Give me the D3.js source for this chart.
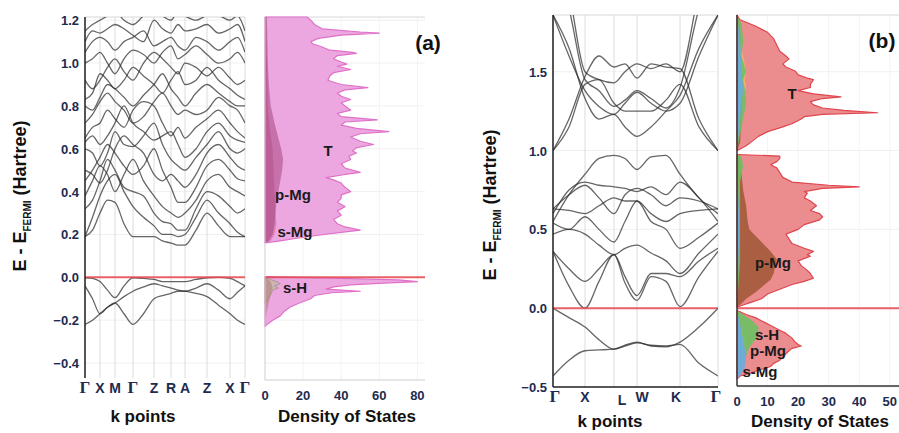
<!DOCTYPE html>
<html>
<head>
<meta charset="utf-8">
<script src="https://cdn.jsdelivr.net/npm/d3@7"></script>
<style>
  body { margin: 0; background: #fff; }
  svg { display: block; font-family: "Liberation Sans", Arial, sans-serif; }
</style>
</head>
<body>
<svg id="chart" width="899" height="433"></svg>
<script>
// ---------- data: panel (a) ----------
const kLabelsA = ['Γ', 'X', 'M', 'Γ', 'Z', 'R', 'A', 'Z', 'X', 'Γ'];
const kPosA = [0, 15, 30, 48, 69, 86, 100, 122, 145, 160];
// band samples at each k point and the midpoints between them
const kSampleA = [0, 7.5, 15, 22.5, 30, 39, 48, 58.5, 69, 77.5, 86, 93, 100, 111, 122, 133.5, 145, 152.5, 160];
const bandsA = [
  [-0.002, -0.005, -0.02, -0.06, -0.095, -0.04, -0.002, -0.005, -0.01, -0.02, -0.02, -0.02, -0.02, -0.01, -0.002, 0.0, -0.005, -0.02, -0.04],
  [-0.04, -0.10, -0.17, -0.14, -0.12, -0.09, -0.065, -0.045, -0.03, -0.04, -0.05, -0.06, -0.065, -0.075, -0.09, -0.13, -0.17, -0.20, -0.22],
  [-0.22, -0.20, -0.17, -0.14, -0.12, -0.17, -0.22, -0.17, -0.10, -0.085, -0.075, -0.065, -0.065, -0.05, -0.03, -0.06, -0.10, -0.07, -0.04],
  [0.19, 0.22, 0.30, 0.36, 0.35, 0.25, 0.19, 0.19, 0.19, 0.17, 0.16, 0.15, 0.15, 0.22, 0.30, 0.24, 0.19, 0.19, 0.19],
  [0.19, 0.28, 0.38, 0.45, 0.48, 0.40, 0.33, 0.28, 0.24, 0.20, 0.20, 0.19, 0.20, 0.28, 0.36, 0.30, 0.25, 0.21, 0.19],
  [0.32, 0.36, 0.45, 0.55, 0.50, 0.42, 0.40, 0.38, 0.30, 0.26, 0.25, 0.22, 0.22, 0.32, 0.40, 0.38, 0.33, 0.30, 0.32],
  [0.38, 0.45, 0.52, 0.48, 0.40, 0.48, 0.55, 0.45, 0.38, 0.33, 0.30, 0.28, 0.30, 0.36, 0.45, 0.48, 0.42, 0.40, 0.38],
  [0.45, 0.50, 0.56, 0.62, 0.58, 0.52, 0.48, 0.52, 0.60, 0.50, 0.42, 0.35, 0.35, 0.42, 0.52, 0.55, 0.50, 0.46, 0.45],
  [0.50, 0.48, 0.44, 0.50, 0.60, 0.66, 0.62, 0.58, 0.48, 0.45, 0.48, 0.45, 0.42, 0.48, 0.58, 0.62, 0.56, 0.52, 0.50],
  [0.60, 0.58, 0.52, 0.58, 0.68, 0.62, 0.61, 0.66, 0.72, 0.62, 0.55, 0.52, 0.50, 0.56, 0.62, 0.68, 0.60, 0.58, 0.60],
  [0.63, 0.66, 0.62, 0.66, 0.72, 0.80, 0.72, 0.68, 0.64, 0.66, 0.68, 0.62, 0.56, 0.60, 0.68, 0.72, 0.66, 0.64, 0.63],
  [0.65, 0.70, 0.72, 0.78, 0.74, 0.70, 0.78, 0.82, 0.80, 0.72, 0.66, 0.70, 0.65, 0.70, 0.74, 0.78, 0.72, 0.68, 0.65],
  [0.72, 0.76, 0.82, 0.86, 0.82, 0.78, 0.72, 0.75, 0.82, 0.86, 0.80, 0.76, 0.78, 0.76, 0.78, 0.84, 0.80, 0.78, 0.72],
  [0.80, 0.78, 0.84, 0.90, 0.88, 0.84, 0.80, 0.85, 0.90, 0.95, 0.88, 0.84, 0.80, 0.86, 0.90, 0.86, 0.82, 0.80, 0.80],
  [0.83, 0.86, 0.95, 0.92, 0.88, 0.92, 0.98, 0.94, 0.90, 0.86, 0.92, 0.96, 0.90, 0.92, 0.98, 0.92, 0.88, 0.85, 0.83],
  [0.92, 0.88, 0.92, 0.98, 1.02, 0.96, 0.92, 1.00, 1.05, 1.02, 0.98, 0.95, 1.00, 0.98, 0.94, 0.98, 0.93, 0.90, 0.92],
  [1.00, 1.02, 1.05, 1.00, 0.95, 1.02, 1.06, 1.04, 1.00, 1.05, 1.08, 1.02, 1.04, 1.08, 1.04, 1.00, 1.02, 1.05, 1.00],
  [1.05, 1.10, 1.12, 1.10, 1.06, 1.10, 1.12, 1.15, 1.08, 1.10, 1.12, 1.08, 1.06, 1.12, 1.10, 1.06, 1.10, 1.12, 1.05],
  [1.10, 1.15, 1.14, 1.16, 1.18, 1.16, 1.13, 1.10, 1.20, 1.16, 1.14, 1.18, 1.15, 1.16, 1.18, 1.14, 1.16, 1.18, 1.10],
  [1.15, 1.18, 1.20, 1.22, 1.24, 1.20, 1.18, 1.22, 1.25, 1.22, 1.20, 1.24, 1.22, 1.20, 1.22, 1.22, 1.20, 1.22, 1.15]
];
const yTicksA = [-0.4, -0.2, 0.0, 0.2, 0.4, 0.6, 0.8, 1.0, 1.2];
const dosTicksA = [0, 20, 40, 60, 80];

// DOS (a): [energy, states]
const dosA_T_cond = [[1.215,22],[1.20,24],[1.18,26],[1.16,30],[1.145,50],[1.14,60],[1.13,40],[1.115,28],[1.10,24],[1.09,25],[1.075,30],[1.06,34],[1.05,46],[1.045,48],[1.035,38],[1.02,36],[1.005,40],[0.995,43],[0.985,38],[0.97,45],[0.955,36],[0.94,34],[0.92,33],[0.90,40],[0.885,54],[0.875,42],[0.86,38],[0.845,40],[0.83,45],[0.815,40],[0.80,42],[0.78,45],[0.765,38],[0.75,40],[0.735,59],[0.725,42],[0.71,40],[0.695,48],[0.68,65],[0.67,50],[0.655,45],[0.635,50],[0.62,57],[0.605,48],[0.59,46],[0.58,48],[0.565,44],[0.55,45],[0.53,40],[0.51,42],[0.49,50],[0.48,42],[0.465,32],[0.455,36],[0.44,40],[0.42,42],[0.40,45],[0.385,40],[0.37,40],[0.35,38],[0.33,42],[0.31,38],[0.29,40],[0.27,36],[0.25,38],[0.235,42],[0.22,50],[0.21,40],[0.195,27],[0.18,15],[0.17,8],[0.16,0]];
const dosA_T_val = [[0.003,0],[-0.005,40],[-0.012,70],[-0.02,80],[-0.028,60],[-0.035,45],[-0.045,36],[-0.055,32],[-0.065,50],[-0.072,35],[-0.085,26],[-0.10,24],[-0.12,18],[-0.14,13],[-0.16,10],[-0.18,8],[-0.20,4],[-0.22,1],[-0.23,0]];
const dosA_pMg = [[1.215,1],[1.0,1.5],[0.9,2],[0.8,3],[0.72,5],[0.65,7],[0.6,8.5],[0.55,9.5],[0.5,9],[0.45,8],[0.4,7],[0.35,6],[0.3,5.5],[0.25,5],[0.2,4],[0.17,2],[0.16,0]];
const dosA_sMg = [[1.215,0.5],[1.0,1],[0.8,1.5],[0.7,2.5],[0.6,4],[0.5,4.5],[0.4,5],[0.3,5.5],[0.25,6],[0.2,5],[0.17,3],[0.16,0]];
const dosA_sH = [[0.0,0],[-0.01,3],[-0.02,6],[-0.03,8],[-0.04,5],[-0.05,7],[-0.06,4],[-0.08,3],[-0.10,1.5],[-0.12,0]];
const dosA_pMgVal = [[0.0,0],[-0.02,3],[-0.05,4],[-0.08,3],[-0.12,2],[-0.16,1],[-0.20,0]];

// ---------- data: panel (b) ----------
const kLabelsB = ['Γ', 'X', 'L', 'W', 'K', 'Γ'];
const kPosB = [0, 32, 61, 84, 127, 165];
const kSampleB = [0, 16, 32, 46, 61, 72, 84, 98, 113, 127, 146, 165];
const bandsB = [
  [0.0, -0.06, -0.12, -0.20, -0.26, -0.235, -0.215, -0.24, -0.245, -0.215, -0.12, 0.0],
  [-0.43, -0.33, -0.27, -0.265, -0.26, -0.24, -0.22, -0.235, -0.24, -0.23, -0.35, -0.43],
  [0.36, 0.14, 0.0, 0.17, 0.34, 0.16, 0.05, 0.20, 0.17, 0.01, 0.20, 0.36],
  [0.36, 0.25, 0.17, 0.25, 0.34, 0.20, 0.08, 0.22, 0.22, 0.20, 0.30, 0.38],
  [0.47, 0.50, 0.47, 0.40, 0.34, 0.38, 0.40, 0.35, 0.30, 0.22, 0.35, 0.47],
  [0.54, 0.50, 0.58, 0.50, 0.42, 0.55, 0.68, 0.55, 0.50, 0.38, 0.45, 0.54],
  [0.63, 0.62, 0.60, 0.65, 0.70, 0.68, 0.68, 0.60, 0.55, 0.60, 0.62, 0.63],
  [0.63, 0.72, 0.78, 0.70, 0.60, 0.72, 0.76, 0.72, 0.65, 0.70, 0.68, 0.63],
  [0.60, 0.75, 0.80, 0.78, 0.77, 0.76, 0.74, 0.77, 0.72, 0.80, 0.70, 0.55],
  [0.55, 0.72, 0.85, 0.95, 0.97, 0.95, 0.88, 0.96, 0.97, 0.85, 0.70, 0.60],
  [1.00, 1.15, 1.42, 1.45, 1.30, 1.25, 1.25, 1.25, 1.32, 1.42, 1.15, 1.00],
  [1.00, 1.20, 1.47, 1.60, 1.53, 1.55, 1.46, 1.55, 1.53, 1.52, 1.20, 1.00],
  [1.86, 1.60, 1.38, 1.28, 1.23, 1.30, 1.37, 1.30, 1.25, 1.30, 1.60, 1.86],
  [1.86, 1.65, 1.33, 1.20, 1.23, 1.15, 1.09, 1.15, 1.25, 1.35, 1.65, 1.86],
  [2.20, 1.90, 1.45, 1.38, 1.28, 1.32, 1.38, 1.33, 1.27, 1.40, 1.90, 2.20],
  [2.30, 2.00, 1.50, 1.45, 1.43, 1.50, 1.55, 1.52, 1.55, 1.50, 2.00, 2.30]
];
const yTicksB = [-0.5, 0.0, 0.5, 1.0, 1.5];
const dosTicksB = [0, 10, 20, 30, 40, 50];

const dosB_T_up = [[1.86,0],[1.83,1],[1.79,6],[1.75,10],[1.71,12],[1.67,13],[1.63,14],[1.60,16],[1.58,17],[1.55,15],[1.53,16],[1.505,19],[1.48,20],[1.46,23],[1.45,25],[1.42,24],[1.40,24],[1.38,20],[1.36,25],[1.34,34],[1.33,28],[1.31,24],[1.29,25],[1.27,28],[1.255,35],[1.24,46],[1.23,28],[1.215,22],[1.20,21],[1.17,18],[1.15,15],[1.12,10],[1.09,7],[1.06,5],[1.03,3],[1.01,1],[1.0,0]];
const dosB_T_mid = [[0.975,0],[0.965,14],[0.95,14],[0.93,13],[0.91,11],[0.89,13],[0.86,14],[0.83,15],[0.80,18],[0.78,30],[0.77,40],[0.76,28],[0.74,22],[0.73,23],[0.70,22],[0.68,24],[0.65,26],[0.62,24],[0.60,27],[0.58,28],[0.56,27],[0.53,22],[0.50,20],[0.47,16],[0.44,17],[0.41,18],[0.38,22],[0.36,25],[0.34,23],[0.33,24],[0.30,20],[0.27,21],[0.24,23],[0.22,24],[0.19,25],[0.17,22],[0.15,18],[0.12,14],[0.09,10],[0.06,8],[0.04,5],[0.02,2],[0.006,0]];
const dosB_T_val = [[-0.015,0],[-0.04,3],[-0.06,6],[-0.09,9],[-0.11,11],[-0.14,14],[-0.16,16],[-0.19,18],[-0.215,19],[-0.23,20],[-0.24,21],[-0.255,18],[-0.27,17],[-0.29,16],[-0.31,15],[-0.33,14],[-0.35,12],[-0.37,11],[-0.40,6],[-0.42,3],[-0.43,1],[-0.45,0]];
const dosB_brown_up = [[1.86,0],[1.8,1],[1.6,1.5],[1.4,2],[1.2,1.5],[1.05,1],[1.0,0]];
const dosB_brown_mid = [[0.975,0],[0.96,1],[0.85,1.5],[0.75,2],[0.65,3],[0.55,3.5],[0.5,4],[0.46,6],[0.42,8],[0.36,11],[0.31,13],[0.27,12.5],[0.22,12],[0.18,11],[0.14,8.5],[0.10,6],[0.06,3],[0.03,1.5],[0.006,0]];
const dosB_green_up = [[1.86,0],[1.8,1.5],[1.7,2],[1.6,1.5],[1.5,3],[1.45,2],[1.4,2.5],[1.3,3],[1.2,2],[1.1,1],[1.0,0]];
const dosB_green_mid = [[0.975,0],[0.96,1.5],[0.9,2],[0.8,1],[0.6,1],[0.3,1],[0.006,0]];
const dosB_green_val = [[-0.015,0],[-0.04,2],[-0.08,5],[-0.12,7],[-0.16,7],[-0.2,6],[-0.25,4],[-0.3,3],[-0.35,2],[-0.4,1],[-0.45,0]];
const dosB_orange_up = [[1.86,0],[1.7,1],[1.6,2],[1.5,3],[1.45,2.5],[1.4,3],[1.35,1.5],[1.3,1],[1.2,1],[1.0,0]];
const dosB_orange_val = [[-0.015,0],[-0.1,1],[-0.16,2],[-0.22,3],[-0.27,3],[-0.32,2],[-0.38,1],[-0.45,0]];
const dosB_blue_up = [[1.86,0],[1.7,1],[1.5,1.5],[1.4,2],[1.3,1.5],[1.2,1],[1.0,0]];
const dosB_blue_mid = [[0.975,0],[0.5,0.8],[0.006,0]];
const dosB_blue_val = [[-0.015,0],[-0.1,1],[-0.2,2],[-0.3,3],[-0.38,2.5],[-0.43,1],[-0.45,0]];

// ---------- drawing ----------
const svg = d3.select('#chart');
const tickColor = '#1d2b4f';
const fermiColor = '#e5484f';

function drawBand(cfg) {
  const x = d3.scaleLinear().domain([0, cfg.kPos[cfg.kPos.length - 1]]).range([cfg.x0, cfg.x1]);
  const y = d3.scaleLinear().domain(cfg.yDomain).range([cfg.yBottom, cfg.yTop]);
  const g = svg.append('g');

  const clipId = 'clip-' + cfg.id;
  svg.append('clipPath').attr('id', clipId)
    .append('rect').attr('x', cfg.x0).attr('y', cfg.yTop)
    .attr('width', cfg.x1 - cfg.x0).attr('height', cfg.yBottom - cfg.yTop);

  // faint horizontal grid
  g.selectAll('.hg').data(cfg.yTicks).join('line')
    .attr('x1', cfg.x0).attr('x2', cfg.x1)
    .attr('y1', d => y(d)).attr('y2', d => y(d))
    .attr('stroke', '#f0f0f0').attr('stroke-width', 1);
  // vertical grid at high-symmetry points
  g.selectAll('.vg').data(cfg.kPos).join('line')
    .attr('x1', d => x(d)).attr('x2', d => x(d))
    .attr('y1', cfg.yTop).attr('y2', cfg.yBottom)
    .attr('stroke', '#dcdcdc').attr('stroke-width', 1);
  g.append('line').attr('x1', cfg.x0).attr('x2', cfg.x1)
    .attr('y1', cfg.yTop).attr('y2', cfg.yTop).attr('stroke', '#d8d8d8');

  const line = d3.line()
    .x((d, i) => x(cfg.kSample[i]))
    .y(d => y(d))
    .curve(d3.curveMonotoneX);
  g.append('g').attr('clip-path', `url(#${clipId})`)
    .selectAll('path').data(cfg.bands).join('path')
    .attr('d', line)
    .attr('fill', 'none')
    .attr('stroke', '#2b2b2b')
    .attr('stroke-width', 1.3)
    .attr('opacity', 0.72);

  // Fermi level
  g.append('line').attr('x1', cfg.x0).attr('x2', cfg.x1)
    .attr('y1', y(0)).attr('y2', y(0))
    .attr('stroke', fermiColor).attr('stroke-width', 2).attr('opacity', 0.85);

  // left axis line
  g.append('line').attr('x1', cfg.x0).attr('x2', cfg.x0)
    .attr('y1', cfg.yTop).attr('y2', cfg.yBottom)
    .attr('stroke', '#222').attr('stroke-width', 1.5);
  if (cfg.bottomAxis) {
    g.append('line').attr('x1', cfg.x0).attr('x2', cfg.x1)
      .attr('y1', cfg.yBottom).attr('y2', cfg.yBottom)
      .attr('stroke', '#222').attr('stroke-width', 1.5);
  }

  // y tick labels
  g.selectAll('.yt').data(cfg.yTicks).join('text')
    .attr('x', cfg.x0 - 6).attr('y', d => y(d) + 5)
    .attr('text-anchor', 'end')
    .attr('font-size', '13px').attr('font-weight', 'bold')
    .attr('fill', tickColor)
    .text(d => d3.format('.1f')(d));

  // k point labels
  g.selectAll('.kt').data(cfg.kLabels).join('text')
    .attr('x', (d, i) => x(cfg.kPos[i]) + (cfg.kShift ? cfg.kShift[i] : 0))
    .attr('y', (d, i) => cfg.kLabelY + (cfg.kDrop ? cfg.kDrop[i] : 0))
    .attr('text-anchor', 'middle')
    .attr('font-size', d => d === 'Γ' ? '17px' : '14px')
    .attr('font-family', d => d === 'Γ' ? '"Liberation Serif", serif' : null)
    .attr('font-weight', 'bold')
    .attr('fill', tickColor)
    .text(d => d);

  g.append('text')
    .attr('x', cfg.kTitleX).attr('y', cfg.kTitleY)
    .attr('text-anchor', 'middle')
    .attr('font-size', '17px').attr('font-weight', 'bold').attr('fill', '#111')
    .text('k points');

  // rotated energy title
  const t = g.append('text')
    .attr('transform', `translate(${cfg.eTitleX},${cfg.eTitleY}) rotate(-90)`)
    .attr('text-anchor', 'middle')
    .attr('font-size', '18px').attr('font-weight', 'bold').attr('fill', '#111');
  t.append('tspan').text('E - E');
  t.append('tspan').attr('dy', 5).attr('font-size', '10px').text('FERMI');
  t.append('tspan').attr('dy', -5).text(' (Hartree)');

  return y;
}

function drawDos(cfg, y) {
  const x = d3.scaleLinear().domain([0, cfg.xMax]).range([cfg.x0, cfg.x0 + cfg.width]);
  const x1 = cfg.x0 + cfg.width;
  const g = svg.append('g');

  g.selectAll('.hg').data(cfg.yTicks).join('line')
    .attr('x1', cfg.x0).attr('x2', x1)
    .attr('y1', d => y(d)).attr('y2', d => y(d))
    .attr('stroke', '#f0f0f0');
  g.selectAll('.vg').data(cfg.xTicks.slice(1)).join('line')
    .attr('x1', d => x(d)).attr('x2', d => x(d))
    .attr('y1', cfg.yTop).attr('y2', cfg.yBottom)
    .attr('stroke', '#f3f3f3');
  g.append('line').attr('x1', cfg.x0).attr('x2', x1)
    .attr('y1', cfg.yTop).attr('y2', cfg.yTop).attr('stroke', '#d8d8d8');

  const area = d3.area()
    .y(d => y(d[0]))
    .x0(x(0))
    .x1(d => x(d[1]));

  cfg.series.forEach(s => {
    s.segments.forEach(seg => {
      g.append('path')
        .attr('d', area(seg))
        .attr('fill', s.fill)
        .attr('stroke', s.stroke || 'none')
        .attr('stroke-width', s.stroke ? 1.2 : 0)
        .attr('stroke-linejoin', 'round');
    });
  });

  g.append('line').attr('x1', cfg.x0).attr('x2', x1)
    .attr('y1', y(0)).attr('y2', y(0))
    .attr('stroke', fermiColor).attr('stroke-width', 2).attr('opacity', 0.85);

  g.append('line').attr('x1', cfg.x0).attr('x2', cfg.x0)
    .attr('y1', cfg.yTop).attr('y2', cfg.yBottom)
    .attr('stroke', cfg.axisColor).attr('stroke-width', cfg.axisWidth);
  g.append('line').attr('x1', cfg.x0).attr('x2', x1)
    .attr('y1', cfg.yBottom).attr('y2', cfg.yBottom)
    .attr('stroke', cfg.axisColor).attr('stroke-width', cfg.axisWidth);

  g.selectAll('.xt').data(cfg.xTicks).join('text')
    .attr('x', d => x(d)).attr('y', cfg.tickY)
    .attr('text-anchor', 'middle')
    .attr('font-size', '13px').attr('font-weight', 'bold')
    .attr('fill', tickColor)
    .text(d => d);

  g.append('text')
    .attr('x', cfg.titleX).attr('y', cfg.titleY)
    .attr('text-anchor', 'middle')
    .attr('font-size', '17px').attr('font-weight', 'bold').attr('fill', '#111')
    .text('Density of States');

  cfg.labels.forEach(l => {
    g.append('text')
      .attr('x', l.x).attr('y', l.y)
      .attr('text-anchor', 'middle')
      .attr('font-size', '15px').attr('font-weight', 'bold').attr('fill', '#1a1a1a')
      .text(l.text);
  });

  g.append('text')
    .attr('x', cfg.tagX).attr('y', cfg.tagY)
    .attr('text-anchor', 'middle')
    .attr('font-size', '21px').attr('font-weight', 'bold').attr('fill', '#111')
    .text(cfg.tag);
}

// panel (a)
const yA = drawBand({
  id: 'a', kPos: kPosA, kSample: kSampleA, kLabels: kLabelsA, bands: bandsA,
  x0: 85, x1: 245, yTop: 17, yBottom: 378, yDomain: [-0.47, 1.215],
  yTicks: yTicksA, kLabelY: 393, kTitleX: 143, kTitleY: 422,
  eTitleX: 26, eTitleY: 196, bottomAxis: false
});
drawDos({
  x0: 265, width: 160, xMax: 84, yTop: 17, yBottom: 380, yTicks: yTicksA,
  xTicks: dosTicksA, tickY: 400, titleX: 347, titleY: 422,
  axisColor: '#cfcfcf', axisWidth: 1,
  series: [
    { segments: [dosA_T_cond, dosA_T_val], fill: 'rgba(234,160,222,0.92)', stroke: '#e070c8' },
    { segments: [dosA_sMg], fill: 'rgba(200,100,160,0.55)' },
    { segments: [dosA_pMg], fill: 'rgba(160,60,115,0.5)' },
    { segments: [dosA_sH], fill: 'rgba(200,185,170,0.85)', stroke: '#b89aa0' },
    { segments: [dosA_pMgVal], fill: 'rgba(170,120,110,0.5)' }
  ],
  labels: [
    { text: 'T', x: 328, y: 156 }, { text: 'p-Mg', x: 293, y: 200 },
    { text: 's-Mg', x: 295, y: 237 }, { text: 's-H', x: 295, y: 293 }
  ],
  tag: '(a)', tagX: 428, tagY: 50
}, yA);

// panel (b)
const yB = drawBand({
  id: 'b', kPos: kPosB, kSample: kSampleB, kLabels: kLabelsB, bands: bandsB,
  x0: 553, x1: 718, yTop: 15, yBottom: 387, yDomain: [-0.5, 1.86],
  yTicks: yTicksB, kLabelY: 402, kShift: [2, 0, 8, 5, -4, -2], kDrop: [0, 0, 3, 0, 0, 0],
  kTitleX: 610, kTitleY: 427, eTitleX: 496, eTitleY: 205, bottomAxis: true
});
drawDos({
  x0: 737, width: 162, xMax: 53, yTop: 15, yBottom: 386, yTicks: yTicksB,
  xTicks: dosTicksB, tickY: 406, titleX: 820, titleY: 427,
  axisColor: '#333', axisWidth: 1.5,
  series: [
    { segments: [dosB_T_up, dosB_T_mid, dosB_T_val], fill: 'rgba(232,120,122,0.85)', stroke: '#e0454d' },
    { segments: [dosB_brown_up, dosB_brown_mid], fill: 'rgba(150,80,40,0.75)' },
    { segments: [dosB_orange_up, dosB_orange_val], fill: 'rgba(246,182,102,0.9)' },
    { segments: [dosB_green_up, dosB_green_mid, dosB_green_val], fill: 'rgba(110,192,100,0.9)' },
    { segments: [dosB_blue_up, dosB_blue_mid, dosB_blue_val], fill: 'rgba(110,170,225,0.9)' }
  ],
  labels: [
    { text: 'T', x: 792, y: 99 }, { text: 'p-Mg', x: 773, y: 268 },
    { text: 's-H', x: 767, y: 340 }, { text: 'p-Mg', x: 768, y: 356 },
    { text: 's-Mg', x: 760, y: 377 }
  ],
  tag: '(b)', tagX: 882, tagY: 48
}, yB);
</script>
</body>
</html>
